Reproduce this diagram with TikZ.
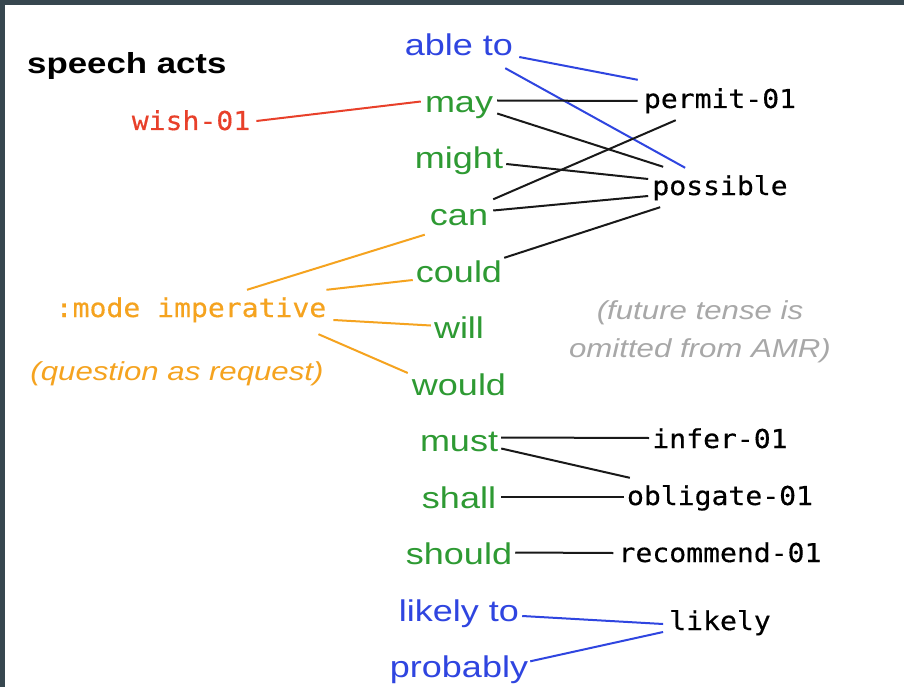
\documentclass[tikz,border=0pt]{standalone}
\usepackage{fontspec}
\setmainfont[FakeStretch=1.2]{Liberation Sans}
\setmonofont[FakeStretch=1.08,FakeBold=0.4]{DejaVu Sans Mono}
\usetikzlibrary{positioning,calc}

\definecolor{slate}{HTML}{37474F}
\definecolor{wordgreen}{HTML}{2E9A33}
\definecolor{wordblue}{HTML}{2F45E0}
\definecolor{modeorange}{HTML}{F5A31F}
\definecolor{wishred}{HTML}{E8402A}
\definecolor{notegray}{HTML}{A8A8A8}

\tikzset{
  word/.style={anchor=base, inner sep=3pt, text height=20pt, text depth=6pt,
    font=\fontsize{30}{36}\selectfont},
  amr/.style={anchor=base, inner sep=3pt, text height=17pt, text depth=5pt,
    font=\ttfamily\fontsize{26}{30}\selectfont},
  link/.style={line width=2pt, black!90},
}

\begin{document}
\begin{tikzpicture}[x=1pt, y=-1pt]

  \fill[slate] (0,0) rectangle (904,687);
  \fill[white] (5,5) rectangle (904,687);
  \useasboundingbox (0,0) rectangle (904,687);

  \node [anchor=base west, inner sep=3pt, font=\bfseries\fontsize{29}{34}\selectfont]
    (title) at (24,74) {speech acts};

  % english modal words, one per row
  \foreach \w/\n/\c [count=\i from 0] in {able to/able/wordblue, may/may/wordgreen,
      might/might/wordgreen, can/can/wordgreen, could/could/wordgreen,
      will/will/wordgreen, would/would/wordgreen, must/must/wordgreen,
      shall/shall/wordgreen, should/should/wordgreen,
      likely to/likelyto/wordblue, probably/probably/wordblue}
  \node [word, text=\c] (\n) at (459,56+56.5*\i) {\w};

  % AMR concepts
  \foreach \w/\n/\y in {permit-01/permit/108, possible/possible/195,
      infer-01/infer/448, obligate-01/obligate/505,
      recommend-01/recommend/562, likely/likely/630}
  \node [amr] (\n) at (720,\y) {\w};

  \node [amr, text=wishred] (wish) at (191,130) {wish-01};
  \node [amr, text=modeorange] (mode) at (191,317) {:mode imperative};
  \node [anchor=base, text=modeorange, font=\itshape\fontsize{26}{30}\selectfont]
    (request) at (177,380) {(question as request)};
  \node [align=center, text=notegray, font=\itshape\fontsize{26}{38}\selectfont]
    (future) at (700,332) {(future tense is\\omitted from AMR)};

  % blue
  \draw [link, wordblue] ($(able.east)+(3,8)$) -- ($(permit.north west)+(-3,-8)$);
  \draw [link, wordblue] ($(able.south east)+(-11,3)$) -- ($(possible.north west)+(36,-7)$);

  % red
  \draw [link, wishred] ($(wish.east)+(3,-3)$) -- ($(may.west)+(-1,-4)$);

  % black, upper group
  \draw [link] ($(may.east)+(1,-5)$) -- ($(permit.west)+(-3,-1)$);
  \draw [link] ($(may.east)+(1,8)$) -- ($(possible.north west)+(14,-8)$);
  \draw [link] ($(might.east)+(0,2)$) -- ($(possible.west)+(-1,-10)$);
  \draw [link] ($(can.north east)+(2,-3)$) -- ($(permit.south west)+(35,4)$);
  \draw [link] ($(can.east)+(2,-8)$) -- ($(possible.west)+(-1,7)$);
  \draw [link] ($(could.north east)+(-1,-1)$) -- ($(possible.south west)+(11,4)$);

  % orange
  \draw [link, modeorange] ($(mode.north)+(56,-7)$) -- ($(can.south west)+(-2,0)$);
  \draw [link, modeorange] ($(mode.north east)+(-3,-7)$) -- ($(could.west)+(0,5)$);
  \draw [link, modeorange] ($(mode.east)+(4,9)$) -- ($(will.west)+(0,-6)$);
  \draw [link, modeorange] ($(mode.south east)+(-11,9)$) -- ($(would.west)+(-1,-15)$);

  % black, lower group
  \draw [link] ($(must.east)+(0,-7)$) -- ($(infer.west)+(0,-4)$);
  \draw [link] ($(must.east)+(0,4)$) -- ($(obligate.north west)+(6,-7)$);
  \draw [link] ($(shall.east)+(2,-4)$) -- ($(obligate.west)+(0,-2)$);
  \draw [link] ($(should.east)+(0,-5)$) -- ($(recommend.west)+(-2,-3)$);

  % blue, lower group
  \draw [link, wordblue] ($(likelyto.east)+(0,2)$) -- ($(likely.west)+(-3,0)$);
  \draw [link, wordblue] ($(probably.north east)+(-1,7)$) -- ($(likely.west)+(-3,8)$);

\end{tikzpicture}
\end{document}
